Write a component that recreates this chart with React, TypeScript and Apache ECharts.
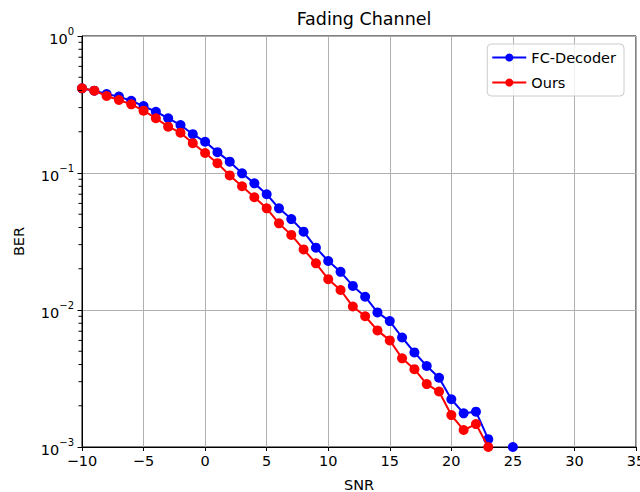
import React, { useEffect, useRef } from "react";
import * as echarts from "echarts";

const snr = [-10, -9, -8, -7, -6, -5, -4, -3, -2, -1, 0, 1, 2, 3, 4, 5, 6, 7, 8, 9, 10, 11, 12, 13, 14, 15, 16, 17, 18, 19, 20, 21, 22, 23, 24, 25];
// 1e-9 stands for a zero BER (drawn as a drop below the axis, as in the source)
const fcDecoder = [0.415, 0.399, 0.377, 0.361, 0.337, 0.308, 0.28, 0.251, 0.224, 0.192, 0.169, 0.142, 0.121, 0.0995, 0.084, 0.07, 0.0552, 0.0461, 0.0373, 0.0285, 0.0228, 0.019, 0.015, 0.0125, 0.0096, 0.0083, 0.0063, 0.0049, 0.0039, 0.0032, 0.00223, 0.00176, 0.00181, 0.00114, 1e-9, 0.001];
const ours = [0.415, 0.399, 0.365, 0.341, 0.317, 0.285, 0.251, 0.218, 0.197, 0.165, 0.14, 0.118, 0.096, 0.08, 0.0665, 0.0552, 0.0429, 0.0353, 0.0277, 0.0219, 0.0168, 0.014, 0.0106, 0.009, 0.0071, 0.006, 0.00444, 0.0037, 0.00288, 0.00254, 0.00171, 0.00133, 0.00147, 0.001, null, null];
const minorTickValues = [0.002, 0.003, 0.004, 0.005, 0.006, 0.007, 0.008, 0.009, 0.02, 0.03, 0.04, 0.05, 0.06, 0.07, 0.08, 0.09, 0.2, 0.3, 0.4, 0.5, 0.6, 0.7, 0.8, 0.9];

const FONT = "DejaVu Sans";

export default function App() {
  const ref = useRef<HTMLDivElement>(null);
  useEffect(() => {
    const chart = echarts.init(ref.current!, null, { renderer: "svg" });
    const pair = (arr: (number | null)[]) => snr.map((x, i) => [x, arr[i]]);
    chart.setOption({
      animation: false,
      backgroundColor: "#fff",
      textStyle: { fontFamily: FONT },
      title: {
        text: "Fading Channel",
        left: 359,
        top: 5,
        textAlign: "center",
        textStyle: { fontFamily: FONT, fontSize: 17.5, fontWeight: "normal", color: "#000" },
      },
      legend: {
        orient: "vertical",
        right: 16,
        top: 44,
        data: ["FC-Decoder", "Ours"],
        backgroundColor: "rgba(255,255,255,0.8)",
        borderColor: "#cccccc",
        borderWidth: 1,
        borderRadius: 4,
        padding: [6, 8, 6, 4],
        itemWidth: 34,
        itemHeight: 10,
        itemGap: 10,
        textStyle: { fontFamily: FONT, fontSize: 14.5, color: "#000" },
      },
      grid: {
        left: 82,
        right: 4,
        top: 36,
        bottom: 45,
        outerBoundsMode: "none",
        containLabel: false,
        show: true,
        borderColor: "#000",
        borderWidth: 1,
        backgroundColor: "transparent",
      },
      xAxis: {
        type: "value",
        min: -10,
        max: 35,
        interval: 5,
        name: "SNR",
        nameLocation: "middle",
        nameGap: 30,
        nameTextStyle: { fontFamily: FONT, fontSize: 14.5, color: "#000" },
        axisLine: { onZero: false, lineStyle: { color: "#000", width: 1 } },
        axisTick: { show: true, length: 4, lineStyle: { color: "#000" } },
        axisLabel: {
          fontFamily: FONT,
          fontSize: 14.5,
          color: "#000",
          margin: 6,
          hideOverlap: false,
          formatter: (v: number) => String(v).replace("-", "\u2212"),
        },
        splitLine: { show: true, lineStyle: { color: "#b0b0b0", width: 1 } },
      },
      yAxis: {
        type: "log",
        logBase: 10,
        min: 0.001,
        max: 1,
        name: "BER",
        nameLocation: "middle",
        nameGap: 56,
        nameTextStyle: { fontFamily: FONT, fontSize: 14.5, color: "#000" },
        axisLine: { show: true, onZero: false, lineStyle: { color: "#000", width: 1 } },
        axisTick: { show: true, length: 4.5, lineStyle: { color: "#000" } },
        axisLabel: {
          fontFamily: FONT,
          margin: 8,
          formatter: (v: number) => {
            const e = Math.round(Math.log10(v));
            return "{b|10}{s|" + (e < 0 ? "\u2212" + -e : String(e)) + "}";
          },
          rich: {
            b: { fontFamily: FONT, fontSize: 14.5, color: "#000", verticalAlign: "bottom", lineHeight: 20 },
            s: { fontFamily: FONT, fontSize: 10, color: "#000", verticalAlign: "top", padding: [0, 0, 8, 0], lineHeight: 20 },
          },
        },
        splitLine: { show: true, lineStyle: { color: "#b0b0b0", width: 1 } },
      },
      series: [
        {
          name: "FC-Decoder",
          type: "line",
          data: pair(fcDecoder),
          clip: true,
          connectNulls: false,
          symbol: "circle",
          symbolSize: 10,
          color: "#0000ff",
          lineStyle: { color: "#0000ff", width: 2 },
          itemStyle: { color: "#0000ff" },
          z: 3,
        },
        {
          name: "Ours",
          type: "line",
          data: pair(ours),
          clip: true,
          connectNulls: false,
          symbol: "circle",
          symbolSize: 10,
          color: "#ff0000",
          lineStyle: { color: "#ff0000", width: 2 },
          itemStyle: { color: "#ff0000" },
          z: 4,
        },
      ],
    });
    // minor log ticks on the y axis, positioned through the chart's own scales
    const x0 = chart.convertToPixel({ xAxisIndex: 0 }, -10) as number;
    const ticks = minorTickValues.map((v) => {
      const y = chart.convertToPixel({ yAxisIndex: 0 }, v) as number;
      return {
        type: "line",
        silent: true,
        z: 50,
        shape: { x1: x0 - 3.5, y1: y, x2: x0, y2: y },
        style: { stroke: "#000", lineWidth: 1 },
      };
    });
    chart.setOption({ graphic: { elements: ticks } });
    return () => chart.dispose();
  }, []);
  return (
    <div
      ref={ref}
      style={{ position: "fixed", left: 0, top: 0, width: 640, height: 492 }}
    />
  );
}
